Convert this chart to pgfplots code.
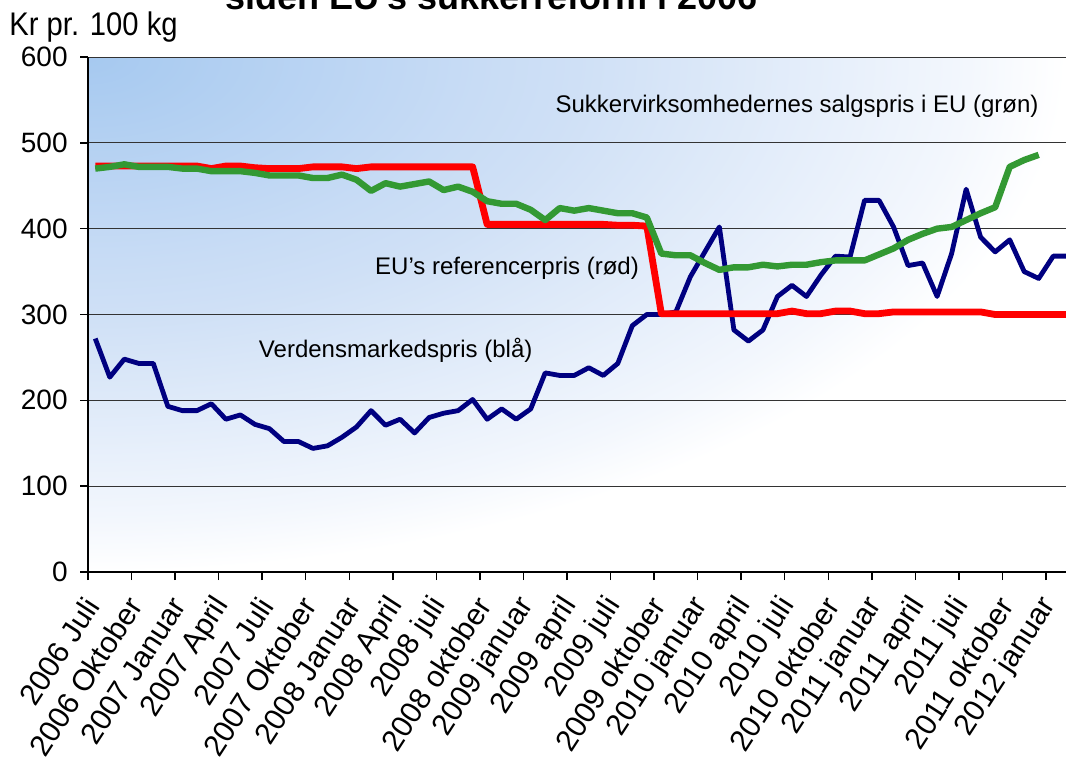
\documentclass[border=0pt]{standalone}
\usepackage{fontspec}
\setmainfont{Liberation Sans}
\usepackage{pgfplots}
\pgfplotsset{compat=1.18}
\usepackage{pgfplotstable}

\definecolor{bgblue}{RGB}{166,201,240}
\definecolor{bgmid}{RGB}{200,220,245}
\definecolor{bgmid2}{RGB}{207,224,246}
\definecolor{bglight}{RGB}{243,247,253}
\definecolor{lnblue}{RGB}{0,0,128}
\definecolor{lnred}{RGB}{255,0,0}
\definecolor{lngreen}{RGB}{51,153,51}

% radial fade from the upper left corner of the plot area
% (the middle 50bp square of a shading is fitted to the path)
\pgfdeclareradialshading{bgshade}{\pgfpoint{0bp}{0bp}}{%
  color(0bp)=(bgblue); color(10bp)=(bgmid); color(12.5bp)=(bgmid2);
  color(22.5bp)=(bglight); color(25bp)=(white); color(50bp)=(white)}

% month index (0 = 2006 Juli), world price, EU reference price
\pgfplotstableread{
i blue red
0 272 473
1 227 473
2 248 473
3 243 473
4 243 473
5 193 473
6 188 473
7 188 473
8 196 470
9 178 473
10 183 473
11 172 471
12 167 470
13 152 470
14 152 470
15 144 472
16 147 472
17 157 472
18 169 470
19 188 472
20 171 472
21 178 472
22 162 472
23 180 472
24 185 472
25 188 472
26 201 472
27 178 405
28 190 405
29 178 405
30 190 405
31 232 405
32 229 405
33 229 405
34 238 405
35 229 405
36 243 404
37 287 404
38 300 403
39 300 301
40 303 301
41 344 301
42 373 301
43 402 301
44 282 301
45 269 301
46 282 301
47 321 301
48 334 304
49 321 301
50 346 301
51 368 304
52 367 304
53 433 301
54 433 301
55 402 303
56 357 303
57 360 303
58 321 303
59 371 303
60 446 303
61 390 303
62 373 300
63 387 300
64 350 300
65 342 300
66 368 300
67 368 300
}\pricedata

% sugar producers' selling price
\pgfplotstableread{
i green
0 470
1 472
2 475
3 472
4 472
5 472
6 470
7 470
8 467
9 467
10 467
11 465
12 462
13 462
14 462
15 459
16 459
17 463
18 457
19 444
20 453
21 449
22 452
23 455
24 445
25 449
26 443
27 432
28 429
29 429
30 422
31 410
32 424
33 421
34 424
35 421
36 418
37 418
38 413
39 371
40 369
41 369
42 360
43 352
44 355
45 355
46 358
47 356
48 358
49 358
50 361
51 363
52 363
53 363
54 370
55 377
56 387
57 394
58 400
59 402
60 410
61 418
62 425
63 472
64 480
65 486
}\greendata

\begin{document}
\begin{tikzpicture}
\begin{axis}[
  set layers,
  scale only axis,
  width=489pt, height=257.5pt,
  xmin=-0.5, xmax=66.88,
  ymin=0, ymax=600,
  axis x line*=bottom, axis y line*=left,
  axis line style={-, line width=1pt, black},
  tick align=outside,
  major tick length=4pt, minor tick length=4pt,
  ytick={0,100,...,600},
  ymajorgrids,
  major grid style={black!80, line width=0.5pt},
  xtick={0,3,...,66},
  xticklabels={2006 Juli, 2006 Oktober, 2007 Januar, 2007 April, 2007 Juli,
    2007 Oktober, 2008 Januar, 2008 April, 2008 juli, 2008 oktober,
    2009 januar, 2009 april, 2009 juli, 2009 oktober, 2010 januar,
    2010 april, 2010 juli, 2010 oktober, 2011 januar, 2011 april,
    2011 juli, 2011 oktober, 2012 januar},
  minor xtick={-0.5,2.5,...,65.5},
  major x tick style={draw=none},
  minor x tick style={draw=black, line width=0.75pt},
  ytick style={draw=black, line width=0.75pt},
  xticklabel style={font=\fontsize{15}{15}\selectfont, rotate=57,
    anchor=east, inner sep=0pt, yshift=-4.1pt, xshift=-9.4pt},
  yticklabel style={font=\fontsize{14}{14}\selectfont, anchor=east,
    inner sep=0pt, xshift=-6pt},
  /pgf/number format/assume math mode=true,
  line join=round,
]
\begin{pgfonlayer}{axis background}
  \clip (rel axis cs:0,0) rectangle (rel axis cs:1,1);
  \shade[shading=bgshade] (rel axis cs:-1,0) rectangle (rel axis cs:1,2);
\end{pgfonlayer}

\addplot[lnblue, line width=2.4pt, no markers] table[x=i, y=blue] {\pricedata};
\addplot[lnred, line width=3.4pt, no markers] table[x=i, y=red] {\pricedata};
\addplot[lngreen, line width=3.2pt, no markers] table[x=i, y=green] {\greendata};

\node[font=\fontsize{12}{12}\selectfont] at (axis cs:48.35,543)
  {Sukkervirksomhedernes salgspris i EU (grøn)};
\node[font=\fontsize{12}{12}\selectfont] at (axis cs:28.37,354)
  {EU's referencerpris (rød)};
\node[font=\fontsize{12}{12}\selectfont] at (axis cs:20.7,258)
  {Verdensmarkedspris (blå)};
\end{axis}

\node[anchor=base west, inner sep=0pt, yscale=1.12,
  font=\fontsize{14.6}{14.6}\selectfont]
  at (-39.5pt,268pt) {Kr pr. 100 kg};
\node[anchor=base, inner sep=0pt, font=\bfseries\fontsize{18}{18}\selectfont]
  at (201.75pt,281pt) {siden EU's sukkerreform i 2006};

\pgfresetboundingbox
\path[use as bounding box] (-44pt,-94.5pt) rectangle (489pt,286pt);
\end{tikzpicture}
\end{document}
